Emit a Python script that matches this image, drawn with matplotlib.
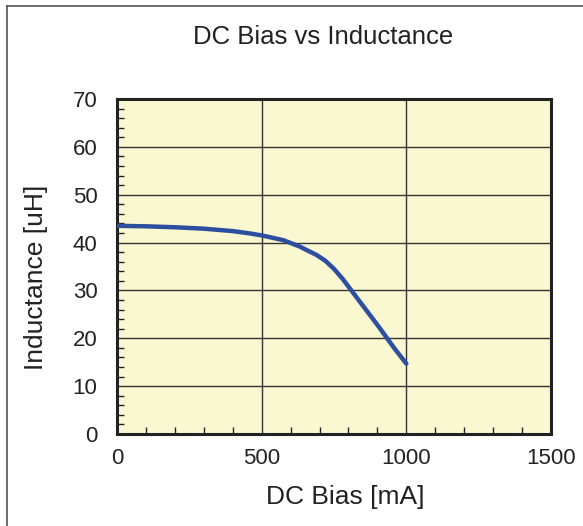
import numpy as np
import matplotlib.pyplot as plt
from matplotlib.lines import Line2D
from matplotlib.ticker import MultipleLocator

plt.rcParams['font.family'] = ['Liberation Sans', 'DejaVu Sans']

# DC bias (mA) vs inductance (uH)
bias = [0, 100, 200, 300, 400, 460, 500, 575, 630, 690, 720, 750, 780, 805,
        830, 860, 900, 930, 960, 1000]
inductance = [43.5, 43.4, 43.2, 42.9, 42.4, 41.9, 41.5, 40.5, 39.2, 37.4, 36.2, 34.5, 32.4, 30.4,
              28.4, 26.0, 22.8, 20.3, 17.8, 14.7]

W, H = 583, 526
fig = plt.figure(figsize=(W / 100, H / 100), dpi=100)
ax = fig.add_axes([117 / W, 1 - 434 / H, 434 / W, 335 / H])
ax.set_facecolor('#faf8d0')

ax.plot(bias, inductance, color='#2e4fa0', lw=3.2, solid_capstyle='round', zorder=3)

ax.set_xlim(0, 1500)
ax.set_ylim(0, 70)
ax.xaxis.set_major_locator(MultipleLocator(500))
ax.xaxis.set_minor_locator(MultipleLocator(100))
ax.yaxis.set_major_locator(MultipleLocator(10))
ax.yaxis.set_minor_locator(MultipleLocator(2))
ax.grid(True, which='major', color='#333333', lw=1)
ax.tick_params(which='both', direction='in', color='#222222', labelsize=16, labelcolor='#222222')
ax.tick_params(axis='y', which='major', length=0, pad=14)
ax.tick_params(axis='x', which='major', length=0, pad=10)
ax.tick_params(which='minor', length=5, width=1)
for s in ax.spines.values():
    s.set_linewidth(2.2)
    s.set_color('#222222')

fig.text(345 / W, 1 - 497 / H, 'DC Bias [mA]', fontsize=19, color='#222222', ha='center', va='center')
fig.text(36 / W, 1 - 277 / H, 'Inductance [uH]', fontsize=19, color='#222222',
         rotation=90, ha='center', va='center')
fig.text(323 / W, 1 - 37 / H, 'DC Bias vs Inductance', fontsize=18.5,
         color='#222222', ha='center', va='center')

# frame of the original figure (left and top edges)
fig.add_artist(Line2D([7 / W, 7 / W], [0, 1 - 6 / H], transform=fig.transFigure, color='#555555', lw=1.2))
fig.add_artist(Line2D([7 / W, 1], [1 - 6 / H, 1 - 6 / H], transform=fig.transFigure, color='#555555', lw=1.2))

fig.savefig('out.png', dpi=100)
